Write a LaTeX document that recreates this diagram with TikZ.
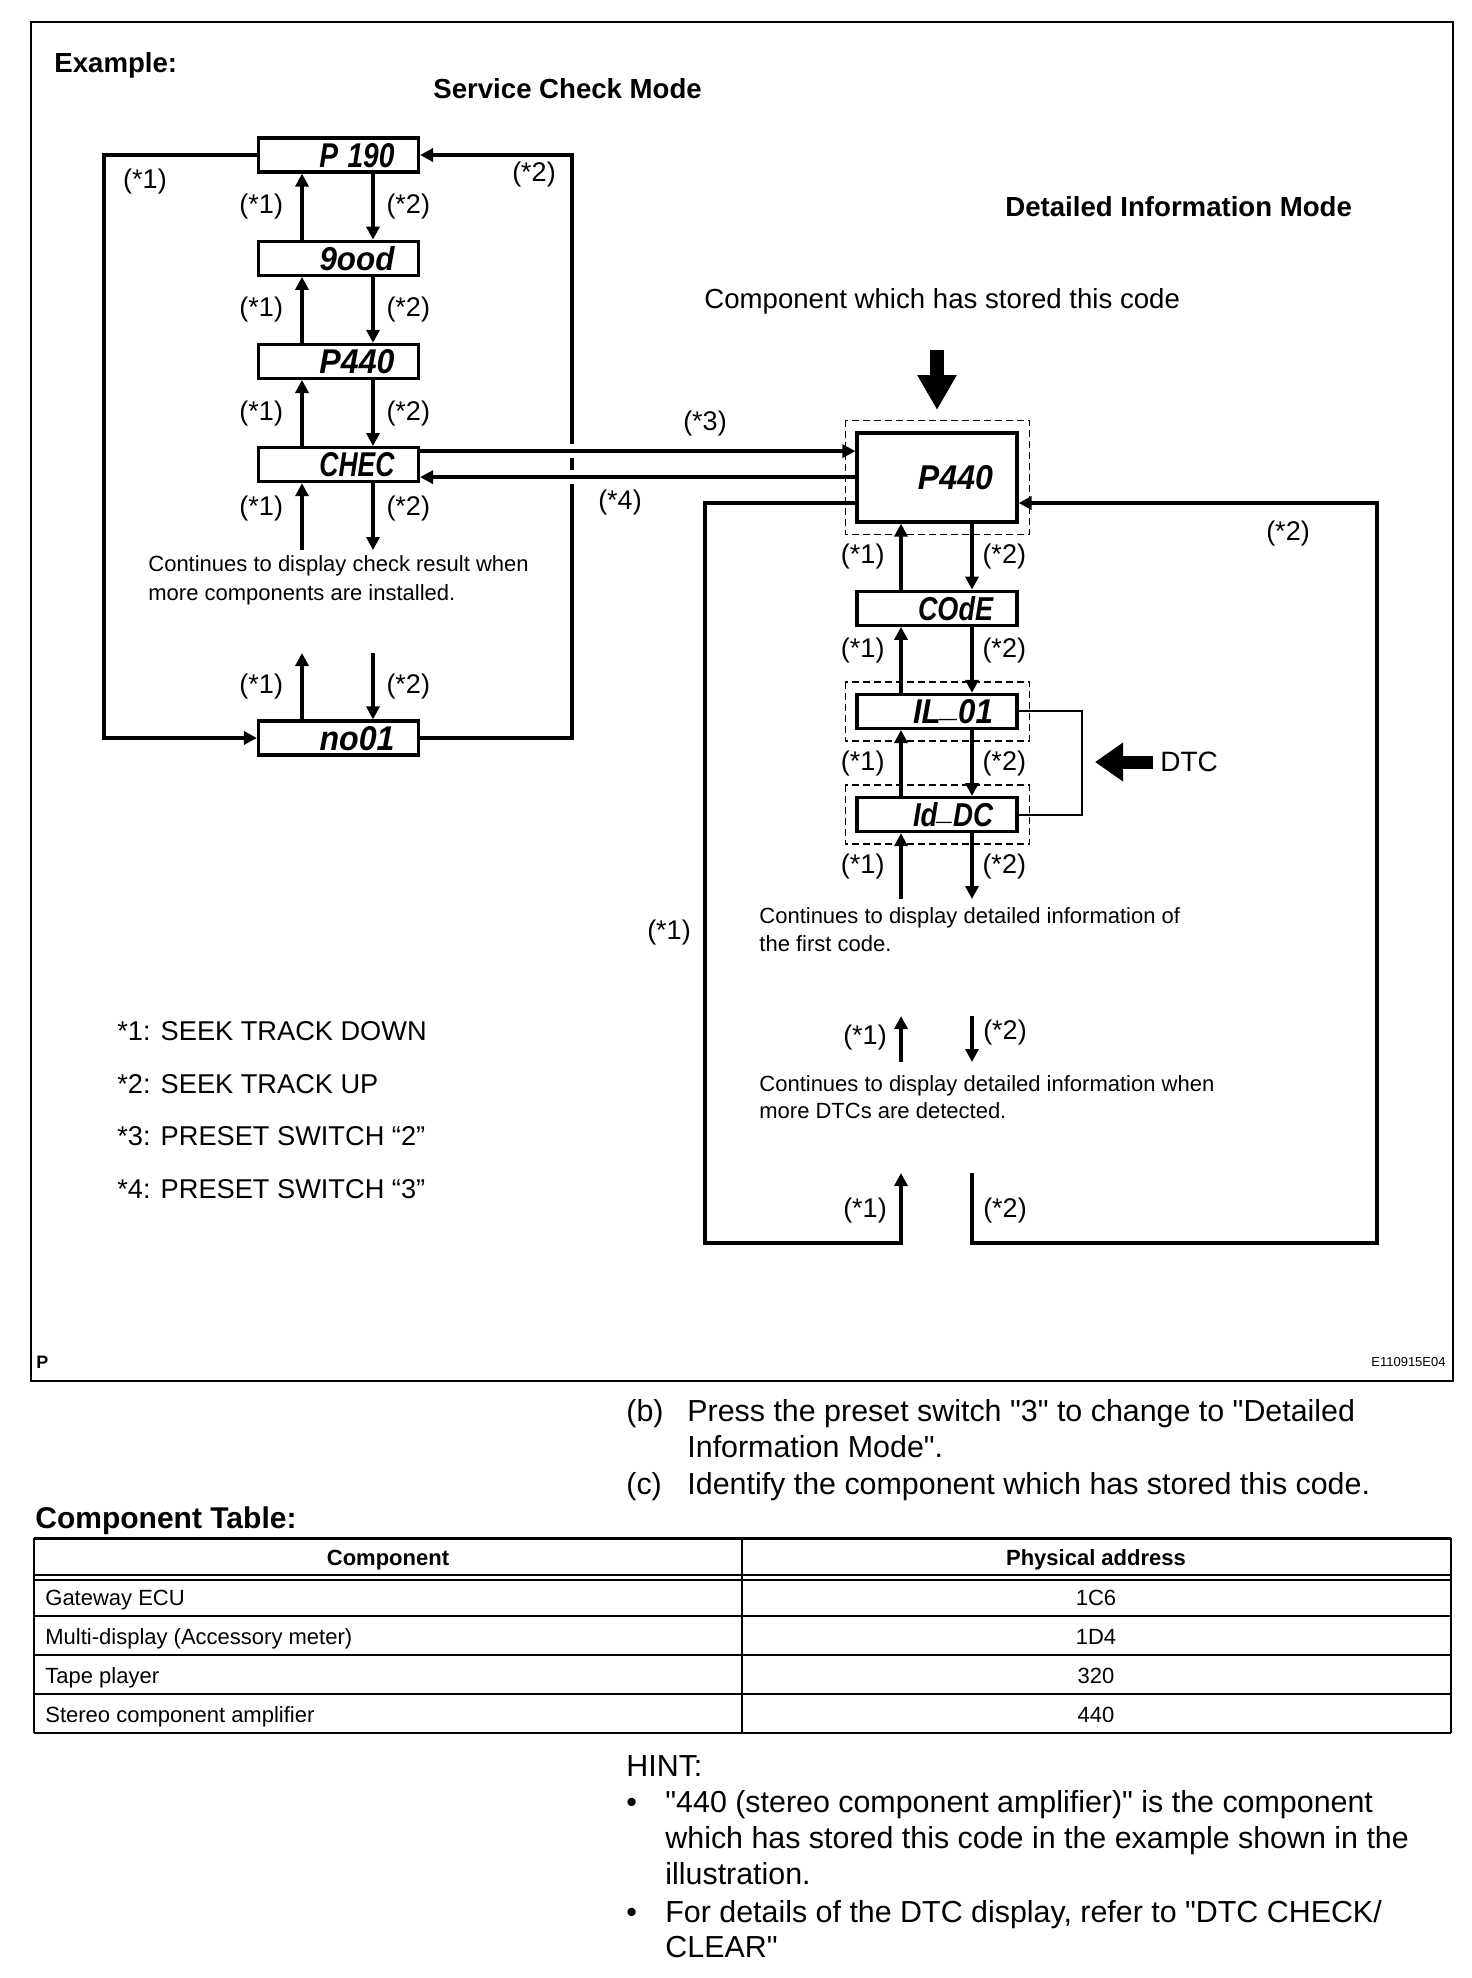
\documentclass[tikz,border=0pt]{standalone}
\usepackage{fontspec}
\setmainfont{Liberation Sans}[Ligatures=TeXOff]
\usepackage{graphicx}
\usetikzlibrary{arrows.meta,positioning}

\newcommand{\seg}[2][37.5pt]{\raisebox{0pt}[12pt][0pt]{\resizebox{#1}{12pt}{\bfseries\itshape #2}}}
\newcommand{\segbar}{\raisebox{0.2em}{\_}}

\begin{document}
\begin{tikzpicture}[
  x=0.5pt, y=-0.5pt,
  >={Triangle[length=6.5pt,width=6.5pt]},
  lcd/.style={
    draw,
    line width=1.6pt,
    minimum width=80pt,
    minimum height=17pt,
    inner sep=0pt,
    text width=56pt,
    align=right,
  },
  lcdbig/.style={lcd, minimum height=44.5pt},
  flow/.style={line width=2pt},
  dashbox/.style={line width=0.75pt, dash pattern=on 3.5pt off 2pt},
  lbl/.style={font=\fontsize{13.5}{16}\selectfont, inner sep=0pt},
  ttl/.style={font=\fontsize{13.8}{16}\selectfont\bfseries, anchor=base west, inner sep=0pt},
  note/.style={font=\fontsize{11}{13}\selectfont, anchor=base west, inner sep=0pt},
  keyln/.style={font=\fontsize{13.6}{16}\selectfont, anchor=base west, inner sep=0pt},
  body/.style={font=\fontsize{15.2}{18}\selectfont, anchor=base west, inner sep=0pt},
  cell/.style={font=\fontsize{11}{13}\selectfont, anchor=base, inner sep=0pt},
]
  \useasboundingbox (0,0) rectangle (1472,1978);
  \draw[line width=1.25pt] (31,22) rectangle (1453,1381);

  \node[ttl] (example) at (54,72) {Example:};
  \node[ttl] (svcmode) at (433,98) {Service Check Mode};
  \node[ttl] (detmode) at (1005,216) {Detailed Information Mode};
  \node[ttl, font=\fontsize{13.8}{16}\selectfont] (stored) at (704,308)
    {Component which has stored this code};

  % service check mode
  \coordinate (upl) at (302,0);
  \coordinate (dnl) at (373,0);
  \node[lcd] (p190) at (338.5,155) {\seg{P 190}};
  \node[lcd, below=33pt of p190] (good) {\seg{9ood}};
  \node[lcd, below=33pt of good] (p440) {\seg{P440}};
  \node[lcd, below=33pt of p440] (chec) {\seg{CHEC}};
  \node[lcd] (no01) at (338.5,738) {\seg{no01}};

  % detailed information mode
  \coordinate (upr) at (901,0);
  \coordinate (dnr) at (972,0);
  \node[lcdbig] (big) at (937,477.5) {\seg{P440}};
  \node[lcd, below=33pt of big] (code) {\seg{COdE}};
  \node[lcd, below=33pt of code] (il) {\seg[40pt]{IL\segbar 01}};
  \node[lcd, below=33pt of il] (id) {\seg[40pt]{Id\segbar DC}};

  \draw[dashbox] ([shift={(-10,-11)}]big.north west) rectangle ([shift={(11,11)}]big.south east);
  \draw[dashbox] ([shift={(-10,-11)}]il.north west) rectangle ([shift={(11,11)}]il.south east);
  \draw[dashbox] ([shift={(-10,-11)}]id.north west) rectangle ([shift={(11,11)}]id.south east);

  \draw[flow,->] (good.north -| upl) -- (p190.south -| upl)
    node[lbl, midway, left=8.5pt] (k1a) {(*1)};
  \draw[flow,->] (p190.south -| dnl) -- (good.north -| dnl)
    node[lbl, midway, right=5.75pt] (k2a) {(*2)};
  \draw[flow,->] (p440.north -| upl) -- (good.south -| upl)
    node[lbl, midway, left=8.5pt] (k1b) {(*1)};
  \draw[flow,->] (good.south -| dnl) -- (p440.north -| dnl)
    node[lbl, midway, right=5.75pt] (k2b) {(*2)};
  \draw[flow,->] (chec.north -| upl) -- (p440.south -| upl)
    node[lbl, midway, left=8.5pt] (k1c) {(*1)};
  \draw[flow,->] (p440.south -| dnl) -- (chec.north -| dnl)
    node[lbl, midway, right=5.75pt] (k2c) {(*2)};

  \coordinate (chkup) at (302,550);
  \coordinate (chkdn) at (373,550);
  \draw[flow,->] (chkup) -- (chec.south -| upl)
    node[lbl, midway, left=8.5pt, yshift=4pt] (k1d) {(*1)};
  \draw[flow,->] (chec.south -| dnl) -- (chkdn)
    node[lbl, midway, right=5.75pt, yshift=4pt] (k2d) {(*2)};

  \node[note] (chknote1) at (148,571) {Continues to display check result when};
  \node[note] (chknote2) at (148,600) {more components are installed.};

  \coordinate (noup) at (302,653);
  \coordinate (nodn) at (373,653);
  \draw[flow,->] (no01.north -| upl) -- (noup)
    node[lbl, midway, left=8.5pt] (k1e) {(*1)};
  \draw[flow,->] (nodn) -- (no01.north -| dnl)
    node[lbl, midway, right=5.75pt] (k2e) {(*2)};

  \draw[flow,->] (p190.west) -- ++(-153,0) |- (no01.west);
  \draw[flow,->] (no01.east) -- ++(152,0) |- (p190.east);
  \node[lbl] (k1top) at (145,182) {(*1)};
  \node[lbl] (k2top) at (534,175) {(*2)};

  \fill[white] (562,444) rectangle (578,458);
  \fill[white] (562,470) rectangle (578,484);
  \draw[flow,->] ([yshift=6.75pt]chec.east) -- ([yshift=6.75pt]chec.east -| big.west);
  \draw[flow,->] ([yshift=-6.25pt]chec.east -| big.west) -- ([yshift=-6.25pt]chec.east);
  \node[lbl] (k3) at (705,423) {(*3)};
  \node[lbl] (k4) at (620,502) {(*4)};

  \coordinate (stortop) at (937,350);
  \coordinate (storbot) at (937,410);
  \draw[line width=7pt, -{Triangle[length=17.5pt,width=18.5pt]}] (stortop) -- (storbot);

  \draw[flow,->] (code.north -| upr) -- (big.south -| upr)
    node[lbl, midway, left=7.25pt] (r1a) {(*1)};
  \draw[flow,->] (big.south -| dnr) -- (code.north -| dnr)
    node[lbl, midway, right=4.25pt] (r2a) {(*2)};
  \draw[flow,->] (il.north -| upr) -- (code.south -| upr)
    node[lbl, midway, left=7.25pt, yshift=4.5pt] (r1b) {(*1)};
  \draw[flow,->] (code.south -| dnr) -- (il.north -| dnr)
    node[lbl, midway, right=4.25pt, yshift=4.5pt] (r2b) {(*2)};
  \draw[flow,->] (id.north -| upr) -- (il.south -| upr)
    node[lbl, midway, left=7.25pt] (r1c) {(*1)};
  \draw[flow,->] (il.south -| dnr) -- (id.north -| dnr)
    node[lbl, midway, right=4.25pt] (r2c) {(*2)};

  \coordinate (idup) at (901,899);
  \coordinate (iddn) at (972,899);
  \draw[flow,->] (idup) -- (id.south -| upr)
    node[lbl, midway, left=7.25pt] (r1d) {(*1)};
  \draw[flow,->] (id.south -| dnr) -- (iddn)
    node[lbl, midway, right=4.25pt] (r2d) {(*2)};

  \draw[line width=1pt] (il.east) -- ++(63,0) |- (id.east);
  \node[inner sep=3.5pt, anchor=west, font=\fontsize{14}{16}\selectfont] (dtc) at (1153,762) {DTC};
  \draw[line width=6.5pt, -{Triangle[length=14pt,width=18.5pt]}] (dtc.west) -- ++(-58,0);

  \node[note] (detnote1) at (759,923) {Continues to display detailed information of};
  \node[note] (detnote2) at (759,951) {the first code.};

  \coordinate (mup) at (901,1062);
  \coordinate (mupt) at (901,1016);
  \coordinate (mdn) at (972,1016);
  \coordinate (mdnb) at (972,1062);
  \draw[flow,->] (mup) -- (mupt);
  \draw[flow,->] (mdn) -- (mdnb);
  \node[lbl] (r1e) at (865,1037) {(*1)};
  \node[lbl] (r2e) at (1005,1032) {(*2)};

  \node[note] (detnote3) at (759,1091) {Continues to display detailed information when};
  \node[note] (detnote4) at (759,1118) {more DTCs are detected.};

  \coordinate (lpend) at (901,1173);
  \coordinate (rpstart) at (972,1173);
  \draw[flow,->] ([yshift=-12.75pt]big.west) -| (705,1243) -| (lpend);
  \draw[flow,->] (rpstart) |- (1377,1243) |- ([yshift=-12.75pt]big.east);
  \node[lbl] (r1left) at (669,932) {(*1)};
  \node[lbl] (r2right) at (1288,533) {(*2)};
  \node[lbl] (r1bot) at (865,1210) {(*1)};
  \node[lbl] (r2bot) at (1005,1210) {(*2)};

  \node[keyln] (key1) at (117,1040) {*1: SEEK TRACK DOWN};
  \node[keyln] (key2) at (117,1093) {*2: SEEK TRACK UP};
  \node[keyln] (key3) at (117,1145) {*3: PRESET SWITCH “2”};
  \node[keyln] (key4) at (117,1198) {*4: PRESET SWITCH “3”};

  \node[font=\fontsize{9}{11}\selectfont\bfseries, anchor=base west, inner sep=0pt] (pmark) at (36,1368) {P};
  \node[font=\fontsize{6.5}{8}\selectfont, anchor=base east, inner sep=0pt] (figid) at (1446,1366) {E110915E04};

  \node[body] (itb) at (626,1421) {(b)};
  \node[body] (itb1) at (687,1421) {Press the preset switch "3" to change to "Detailed};
  \node[body] (itb2) at (687,1457) {Information Mode".};
  \node[body] (itc) at (626,1494) {(c)};
  \node[body] (itc1) at (687,1494) {Identify the component which has stored this code.};

  \node[font=\fontsize{15}{18}\selectfont\bfseries, anchor=base west, inner sep=0pt] (tbltitle) at (35,1528) {Component Table:};
  \draw[line width=1.5pt] (34,1538) -- (1451,1538);
  \draw[line width=1pt] (34,1538) -- (34,1733) (742,1538) -- (742,1733) (1451,1538) -- (1451,1733);
  \draw[line width=0.6pt] (34,1575) -- (1451,1575) (34,1580) -- (1451,1580);
  \draw[line width=1pt] (34,1616) -- (1451,1616) (34,1655) -- (1451,1655) (34,1694) -- (1451,1694);
  \draw[line width=1.25pt] (34,1733) -- (1451,1733);
  \node[cell, font=\fontsize{11}{13}\selectfont\bfseries] (hcomp) at (388,1565) {Component};
  \node[cell, font=\fontsize{11}{13}\selectfont\bfseries] (haddr) at (1096,1565) {Physical address};
  \node[cell, anchor=base west] (c1) at (45,1605) {Gateway ECU};
  \node[cell] (a1) at (1096,1605) {1C6};
  \node[cell, anchor=base west] (c2) at (45,1644) {Multi-display (Accessory meter)};
  \node[cell] (a2) at (1096,1644) {1D4};
  \node[cell, anchor=base west] (c3) at (45,1683) {Tape player};
  \node[cell] (a3) at (1096,1683) {320};
  \node[cell, anchor=base west] (c4) at (45,1722) {Stereo component amplifier};
  \node[cell] (a4) at (1096,1722) {440};

  \node[body] (hint) at (626,1776) {HINT:};
  \node[body] (bul1) at (626,1812) {•};
  \node[body] (h1) at (665,1812) {"440 (stereo component amplifier)" is the component};
  \node[body] (h2) at (665,1848) {which has stored this code in the example shown in the};
  \node[body] (h3) at (665,1884) {illustration.};
  \node[body] (bul2) at (626,1922) {•};
  \node[body] (h4) at (665,1922) {For details of the DTC display, refer to "DTC CHECK/};
  \node[body] (h5) at (665,1957) {CLEAR"};
\end{tikzpicture}
\end{document}
